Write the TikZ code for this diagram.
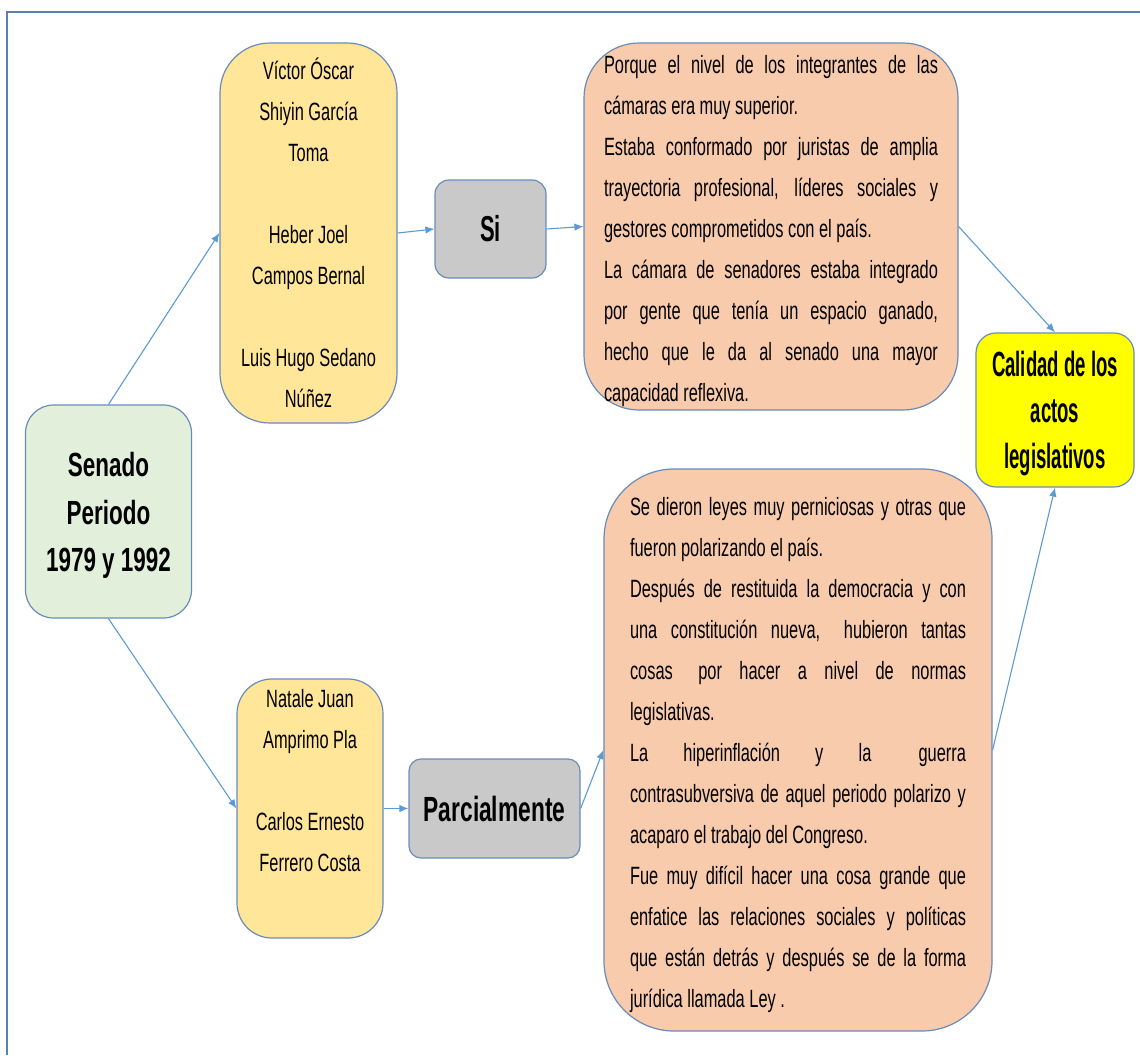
\documentclass[tikz,border=0pt]{standalone}
\usepackage{fontspec}
\setmainfont{Liberation Sans}
\newfontfamily\regf[FakeStretch=0.656]{Liberation Sans}
\newfontfamily\boldS[FakeStretch=0.67]{Liberation Sans Bold}
\newfontfamily\boldSi[FakeStretch=0.61]{Liberation Sans Bold}
\newfontfamily\boldP[FakeStretch=0.65]{Liberation Sans Bold}
\newfontfamily\boldC[FakeStretch=0.53]{Liberation Sans Bold}
\usetikzlibrary{arrows.meta}
\definecolor{boxline}{HTML}{6A8CBA}
\definecolor{greenf}{HTML}{E2EFDA}
\definecolor{yellowf}{HTML}{FFE699}
\definecolor{orangef}{HTML}{F8CBAD}
\definecolor{grayf}{HTML}{C9C9C9}
\definecolor{yellowc}{HTML}{FFFF00}
\definecolor{arrowc}{HTML}{5B9BD5}
\definecolor{framec}{HTML}{5A80B0}
\newcommand{\jlA}[1]{\makebox[334pt][s]{#1}}
\newcommand{\jlB}[1]{\makebox[336pt][s]{#1}}
\begin{document}
\begin{tikzpicture}[x=1pt,y=-1pt,
  box/.style={draw=boxline, line width=1.2pt, inner sep=0pt, align=center},
  regtext/.style={font=\regf\fontsize{25}{41}\selectfont},
  conn/.style={draw=arrowc, line width=1.1pt, -{Latex[length=9pt,width=7.5pt]}},
  framel/.style={draw=framec, line width=1.5pt}]
\fill[white] (0,0) rectangle (1140,1055);
\useasboundingbox (0,0) rectangle (1140,1055);
\draw[framel] (7,1055) -- (7,12) -- (1140,12);

\node[box, fill=greenf, rounded corners=28pt, minimum width=166pt, minimum height=213pt,
  font=\boldS\fontsize{33.5}{47.5}\selectfont] (sen) at (108.5,511.5)
  {\rule{0pt}{32pt}Senado\\Periodo\\1979 y 1992};

\node[box, fill=yellowf, rounded corners=50pt, minimum width=177pt, minimum height=380pt, regtext]
  (n1) at (308.5,233)
  {Víctor Óscar\\Shiyin García\\Toma\\[41pt]Heber Joel\\Campos Bernal\\[41pt]Luis Hugo Sedano\\Núñez};

\node[box, fill=grayf, rounded corners=14pt, minimum width=111pt, minimum height=98pt,
  font=\boldSi\fontsize{36}{40}\selectfont] (si) at (490.5,229) {Si};

\node[box, fill=orangef, rounded corners=55pt, minimum width=374pt, minimum height=367pt,
  regtext, align=left] (o1) at (771,226.5)
  {\rule{0pt}{28pt}\jlA{Porque el nivel de los integrantes de las}\\
   cámaras era muy superior.\\
   \jlA{Estaba conformado por juristas de amplia}\\
   \jlA{trayectoria profesional, líderes sociales y}\\
   gestores comprometidos con el país.\\
   \jlA{La cámara de senadores estaba integrado}\\
   \jlA{por gente que tenía un espacio ganado,}\\
   \jlA{hecho que le da al senado una mayor}\\
   capacidad reflexiva.};

\node[box, fill=yellowc, rounded corners=20pt, minimum width=158pt, minimum height=154pt,
  font=\boldC\fontsize{35}{46}\selectfont] (cal) at (1055,410)
  {\rule{0pt}{32pt}Calidad de los\\actos\\legislativos};

\node[box, fill=yellowf, rounded corners=35pt, minimum width=146pt, minimum height=259pt, regtext]
  (n2) at (310,808.5)
  {Natale Juan\\Amprimo Pla\\[41pt]Carlos Ernesto\\Ferrero Costa\\[16pt]\mbox{}};

\node[box, fill=grayf, rounded corners=12pt, minimum width=171pt, minimum height=99pt,
  font=\boldP\fontsize{35}{40}\selectfont] (par) at (494.5,808.5) {Parcialmente};

\node[box, fill=orangef, rounded corners=70pt, minimum width=388pt, minimum height=562pt,
  regtext, align=left] (o2) at (798,750)
  {\rule{0pt}{28pt}\jlB{Se dieron leyes muy perniciosas y otras que}\\
   fueron polarizando el país.\\
   \jlB{Después de restituida la democracia y con}\\
   \jlB{una constitución nueva,\hspace{8pt} hubieron tantas}\\
   \jlB{cosas\hspace{8pt} por hacer a nivel de normas}\\
   legislativas.\\
   \jlB{La hiperinflación y la\hspace{12pt} guerra}\\
   \jlB{contrasubversiva de aquel periodo polarizo y}\\
   acaparo el trabajo del Congreso.\\
   \jlB{Fue muy difícil hacer una cosa grande que}\\
   \jlB{enfatice las relaciones sociales y políticas}\\
   \jlB{que están detrás y después se de la forma}\\
   jurídica llamada Ley .};

\draw[conn] (sen.north) -- (n1.west);
\draw[conn] (sen.south) -- (n2.west);
\draw[conn] (n1.east) -- (si.west);
\draw[conn] (si.east) -- (o1.west);
\draw[conn] (o1.east) -- (cal.north);
\draw[conn] (n2.east) -- (par.west);
\draw[conn] (par.east) -- (o2.west);
\draw[conn] (o2.east) -- (cal.south);
\end{tikzpicture}
\end{document}
